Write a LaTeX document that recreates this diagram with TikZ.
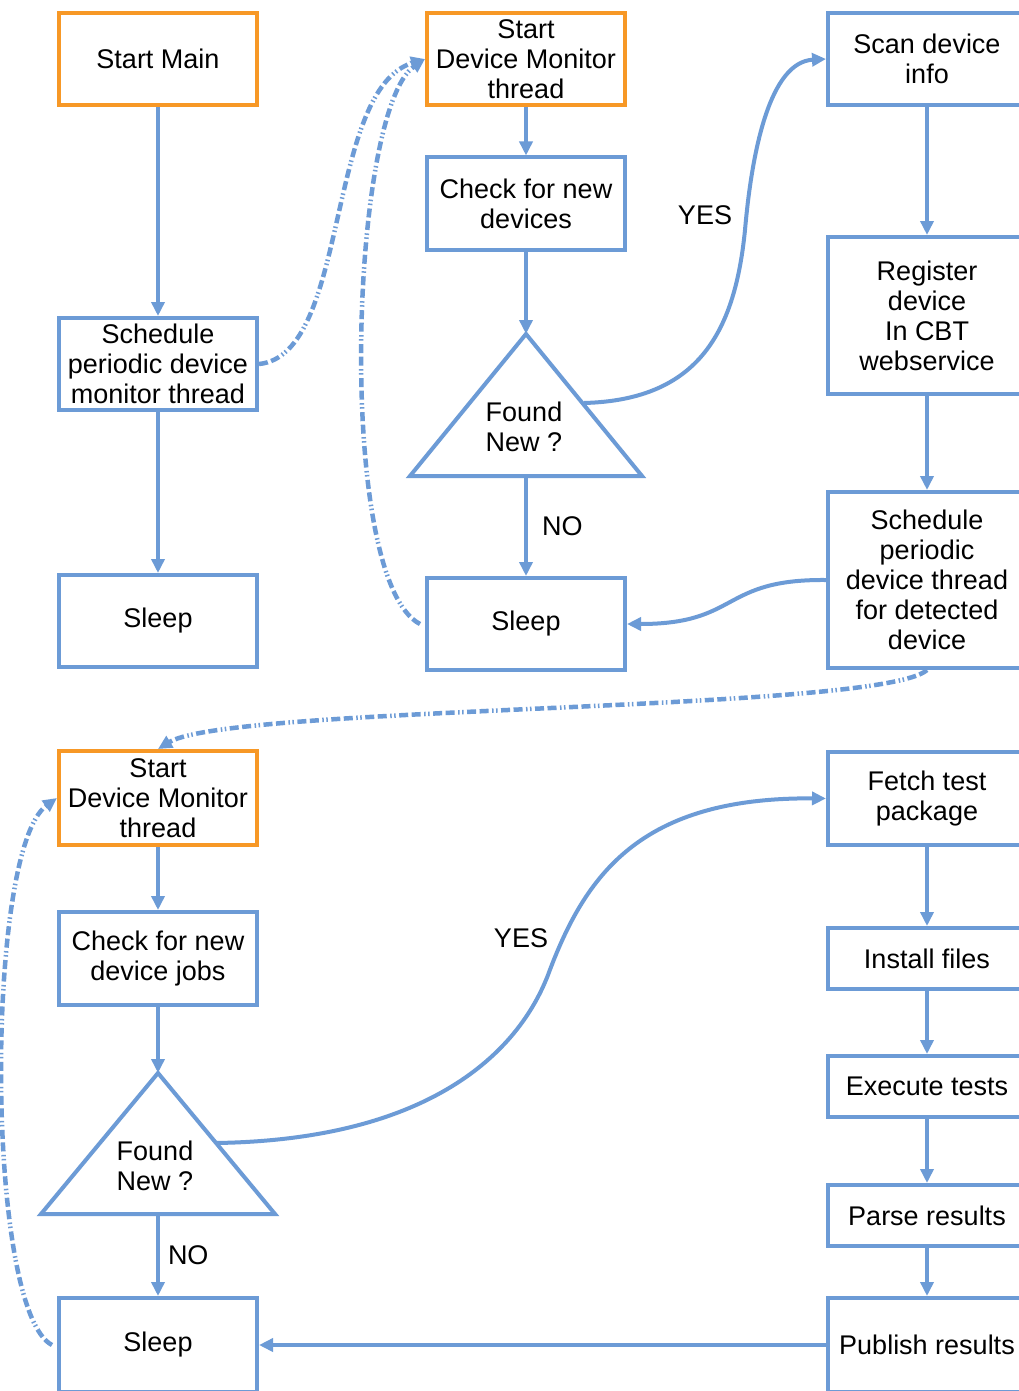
\documentclass[tikz,border=0pt]{standalone}
\usepackage{fontspec}
\setmainfont{Liberation Sans}
\usetikzlibrary{arrows.meta}
\definecolor{flowblue}{RGB}{108,155,214}
\definecolor{startorange}{RGB}{247,152,38}
\begin{document}
\begin{tikzpicture}[x=1pt,y=-1pt,
  txt/.style={font=\fontsize{27}{30}\selectfont, align=center, inner sep=0pt},
  box/.style={txt, draw=flowblue, line width=4pt, fill=white,
    minimum width=198pt, minimum height=92pt},
  startbox/.style={box, draw=startorange},
  flow/.style={draw=flowblue, line width=4pt, -{Triangle[length=14pt,width=13pt]}},
  async/.style={draw=flowblue, line width=4.5pt, -{Triangle[length=14pt,width=13pt]},
    dash pattern=on 9pt off 3.5pt on 9pt off 3.5pt on 1.5pt off 2.5pt on 1.5pt off 3.5pt},
  tri/.style={draw=flowblue, line width=4pt, line join=miter}]
\useasboundingbox (0,0) rectangle (1019,1391);
\clip (0,0) rectangle (1019,1391);
\fill[white] (0,0) rectangle (1019,1391);

% main thread
\node[startbox] (startmain) at (158,59) {Start Main};
\node[box] (sched) at (158,364) {Schedule\\periodic device\\monitor thread};
\node[box] (sleepA) at (158,621) {Sleep};

% device monitor thread
\node[startbox] (dmA) at (526,59) {Start\\Device Monitor\\thread};
\node[box] (checkA) at (526,203.5) {Check for new\\devices};
\draw[tri] (526,334) -- (642,476) -- (410,476) -- cycle;
\coordinate (triAtop) at (526,334);
\coordinate (triAbase) at (526,476);
\coordinate (triAside) at (584,403);
\node[txt] (foundA) at (524,427) {Found\\New ?};
\node[box] (sleepB) at (526,624) {Sleep};

% device registration
\node[box] (scan) at (927,59) {Scan device\\info};
\node[box, minimum height=157pt] (reg) at (927,315.5) {Register\\device\\In CBT\\webservice};
\node[box, minimum height=176pt] (schedDev) at (927,580) {Schedule\\periodic\\device thread\\for detected\\device};

% per-device thread
\node[startbox, minimum height=94pt] (dmB) at (158,798) {Start\\Device Monitor\\thread};
\node[box, minimum height=93pt] (checkB) at (158,958.5) {Check for new\\device jobs};
\draw[tri] (158,1073) -- (275,1214) -- (41,1214) -- cycle;
\coordinate (triBtop) at (158,1073);
\coordinate (triBbase) at (158,1214);
\coordinate (triBside) at (216,1143);
\node[txt] (foundB) at (155,1166) {Found\\New ?};
\node[box, minimum height=94pt] (sleepC) at (158,1345) {Sleep};

% test execution
\node[box, minimum height=93pt] (fetch) at (927,798.5) {Fetch test\\package};
\node[box, minimum height=61pt] (install) at (927,958.5) {Install files};
\node[box, minimum height=61pt] (execute) at (927,1086.5) {Execute tests};
\node[box, minimum height=61pt] (parse) at (927,1215.5) {Parse results};
\node[box, minimum height=94pt] (publish) at (927,1345) {Publish results};

% connectors
\draw[flow] (startmain) -- (sched);
\draw[flow] (sched) -- (sleepA);
\draw[flow] (dmA) -- (checkA);
\draw[flow] (checkA) -- (triAtop);
\draw[flow] (triAbase) -- node[txt, right=14pt] (noA) {NO} (sleepB);
\draw[flow] (triAside) .. controls (700,400) and (735,330) .. (745,230)
  .. controls (752,150) and (770,62) .. (scan.west);
\node[txt] (yesA) at (705,215) {YES};
\draw[flow] (scan) -- (reg);
\draw[flow] (reg) -- (schedDev);
\draw[flow] (schedDev.west) .. controls (720,579) and (740,624) .. (sleepB.east);

\draw[flow] (dmB) -- (checkB);
\draw[flow] (checkB) -- (triBtop);
\draw[flow] (triBbase) -- node[txt, right=8pt] (noB) {NO} (sleepC);
\draw[flow] (triBside) .. controls (420,1140) and (515,1060) .. (548,975)
  .. controls (585,875) and (640,797) .. (fetch.west);
\node[txt] (yesB) at (521,938) {YES};
\draw[flow] (fetch) -- (install);
\draw[flow] (install) -- (execute);
\draw[flow] (execute) -- (parse);
\draw[flow] (parse) -- (publish);
\draw[flow] (publish) -- (sleepC);

% thread spawning and rescheduling
\draw[async] (sched.east) .. controls (350,355) and (325,90) .. (dmA.west);
\draw[async] ([xshift=-5pt]sleepB.west) .. controls (335,580) and (350,110) .. (dmA.west);
\draw[async] (schedDev.south) .. controls (880,712) and (230,705) .. (dmB.north);
\draw[async] ([xshift=-5pt]sleepC.west) .. controls (-15,1310) and (-15,850) .. (dmB.west);
\end{tikzpicture}
\end{document}
